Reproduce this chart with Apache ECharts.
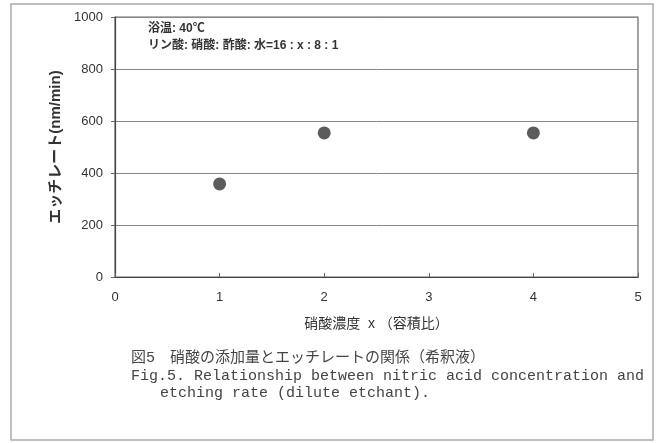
<!DOCTYPE html>
<html><head><meta charset="utf-8">
<script src="https://cdn.jsdelivr.net/npm/echarts@6/dist/echarts.min.js"></script>
<style>html,body{margin:0;padding:0;background:#fff}#c{width:661px;height:443px}</style>
</head><body><div id="c"></div>
<script>
const xValues = [1, 2, 4];
const etchRates = [358, 554, 554];
const yTicks = [0, 200, 400, 600, 800, 1000];
const xTicks = [0, 1, 2, 3, 4, 5];
const xName = '硝酸濃度  x （容積比）';
const yName = 'エッチレート(nm/min)';
const noteLines = ['浴温: 40℃', 'リン酸: 硝酸: 酢酸: 水=16 : x : 8 : 1'];
const captionLines = ['図5　硝酸の添加量とエッチレートの関係（希釈液）',
  'Fig.5. Relationship between nitric acid concentration and',
  'etching rate (dilute etchant).'];

const chart = echarts.init(document.getElementById('c'), null, {renderer: 'canvas'});
const sans = 'Arial, "Liberation Sans", "Noto Sans CJK JP", sans-serif';
const capFont = '"Liberation Mono", "Noto Sans CJK JP", monospace';
chart.setOption({
  animation: false,
  backgroundColor: '#fff',
  grid: {left: 115, right: 23, top: 17, bottom: 166, show: true, borderColor: '#666', borderWidth: 1.2},
  xAxis: {
    type: 'value', min: xTicks[0], max: xTicks[xTicks.length - 1], interval: 1,
    name: xName, nameLocation: 'middle', nameGap: 40,
    nameTextStyle: {color: '#333', fontSize: 14, fontFamily: sans},
    axisLine: {lineStyle: {color: '#444', width: 1.2}},
    axisTick: {show: true, inside: true, length: 4, lineStyle: {color: '#666'}},
    axisLabel: {color: '#333', fontSize: 13, fontFamily: sans, margin: 14},
    splitLine: {show: false}
  },
  yAxis: {
    type: 'value', min: yTicks[0], max: yTicks[yTicks.length - 1], interval: 200,
    name: yName, nameLocation: 'middle', nameGap: 50,
    nameTextStyle: {color: '#333', fontSize: 15, fontWeight: 'bold', fontFamily: sans},
    axisLine: {show: true, lineStyle: {color: '#444', width: 1.2}},
    axisTick: {show: true, length: 4, lineStyle: {color: '#666'}},
    axisLabel: {color: '#333', fontSize: 13, fontFamily: sans, margin: 12, formatter: v => String(v)},
    splitLine: {show: true, lineStyle: {color: '#888', width: 1}}
  },
  series: [{
    type: 'scatter', symbol: 'circle', symbolSize: 13,
    itemStyle: {color: '#333'},
    data: xValues.map((x, i) => [x, etchRates[i]])
  }],
  graphic: [
    {type: 'rect', shape: {x: 11, y: 4, width: 642, height: 436}, style: {fill: 'none', stroke: '#aaa', lineWidth: 1.5}, silent: true},
    {type: 'text', left: 148, top: 23, style: {text: noteLines[0], fill: '#333', font: 'bold 12px ' + sans}},
    {type: 'text', left: 148, top: 40, style: {text: noteLines[1], fill: '#333', font: 'bold 12px ' + sans}},
    {type: 'text', left: 131, top: 351, style: {text: captionLines[0], fill: '#444', font: '15px ' + capFont}},
    {type: 'text', left: 131, top: 369, style: {text: captionLines[1], fill: '#444', font: '15px ' + capFont}},
    {type: 'text', left: 160, top: 386, style: {text: captionLines[2], fill: '#444', font: '15px ' + capFont}}
  ]
});
</script></body></html>
